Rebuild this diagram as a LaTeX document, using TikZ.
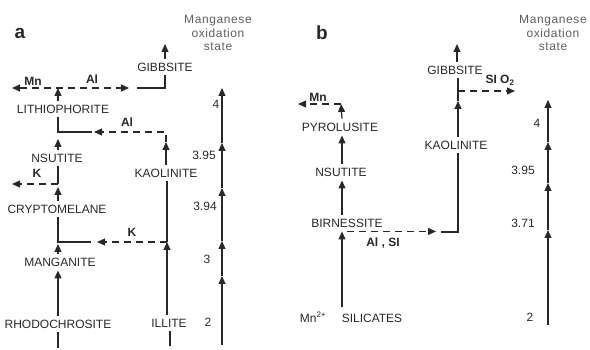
\documentclass[tikz,border=0pt]{standalone}
\usepackage{fontspec}
\setmainfont{Liberation Sans}
\usetikzlibrary{arrows.meta}
\definecolor{ink}{RGB}{40,40,40}
\newcommand{\lab}{\fontsize{12}{13.5}\selectfont}

\begin{document}
\begin{tikzpicture}[x=1pt,y=-1pt,
  mineral/.style={font=\lab,text=ink,text height=8.5pt,text depth=0pt,inner sep=4pt},
  elem/.style={font=\lab\bfseries,text=ink,inner sep=1pt},
  val/.style={font=\lab,text=ink,inner sep=1pt},
  ttl/.style={font=\lab\addfontfeature{LetterSpace=5},text=ink!75,align=center,inner sep=0pt},
  panel/.style={font=\fontsize{19}{20}\selectfont\bfseries,text=ink,inner sep=0pt},
  ln/.style={draw=ink,line width=1.2pt},
  tip/.style={-{Triangle[length=8pt,width=7pt]}},
  arr/.style={ln,tip},
  dsh/.style={dash pattern=on 7pt off 5pt}]
  \useasboundingbox (0,0) rectangle (590,350);

  % ---------- panel a ----------
  \node[panel] (pa) at (20,33) {a};
  \node[ttl] (ttla) at (218,33) {Manganese\\oxidation\\state};
  % minerals
  \node[mineral] (gibA)   at (165,67)  {GIBBSITE};
  \node[mineral] (lith)   at (63,109)  {LITHIOPHORITE};
  \node[mineral] (nsutA)  at (57,158)  {NSUTITE};
  \node[mineral] (crypt)  at (57,209)  {CRYPTOMELANE};
  \node[mineral] (mang)   at (60,262)  {MANGANITE};
  \node[mineral] (rhodo)  at (58,324)  {RHODOCHROSITE};
  \node[mineral] (kaolA)  at (166,173) {KAOLINITE};
  \node[mineral] (illite) at (169,323) {ILLITE};
  % exchanged elements
  \node[elem] (mnA)  at (33,81)  {Mn};
  \node[elem] (alA1) at (92,79)  {Al};
  \node[elem] (alA2) at (127,122) {Al};
  \node[elem] (kA1)  at (37,173) {K};
  \node[elem] (kA2)  at (132,232) {K};
  % path points
  \coordinate (gibAup) at (165,44);
  \coordinate (lithtop) at (58,88);
  \coordinate (mnAend) at (12,88);
  \coordinate (alAend) at (129,88);
  \coordinate (alAjoin) at (137,88);
  \coordinate (alA2end) at (94,132);
  \coordinate (alA2join) at (92,132);
  \coordinate (kaolAtip) at (166,142);
  \coordinate (nsutAtip) at (58,139);
  \coordinate (kAjoin) at (58,184);
  \coordinate (kAend) at (12,184);
  \coordinate (cryptTip) at (58,187);
  \coordinate (kA2join) at (91,242);
  \coordinate (kA2end) at (97,242);
  \coordinate (illK) at (167,242);
  \coordinate (mangTip) at (58,244);
  \coordinate (rhodoEnd) at (58,348);
  \coordinate (illEnd) at (170,346);
  % connectors
  \draw[arr] (gibA.north) -- (gibAup);
  \draw[ln] (alAjoin) -| (gibA.south);
  \draw[ln,dsh,{Triangle[length=8pt,width=7pt]}-{Triangle[length=8pt,width=7pt]}] (mnAend) -- (alAend);
  \draw[arr] (lith.north -| lithtop) -- (lithtop);
  \draw[ln] (lith.south -| lithtop) |- (alA2join);
  \draw[arr] (kaolA.north -| kaolAtip) -- (kaolAtip);
  \draw[arr,dsh] (kaolAtip) |- (alA2end);
  \draw[arr] (nsutA.north -| lithtop) -- (nsutAtip);
  \draw[ln] (nsutA.south -| lithtop) -- (kAjoin);
  \draw[arr,dsh] (kAjoin) -- (kAend);
  \draw[arr] (crypt.north -| lithtop) -- (cryptTip);
  \draw[ln] (crypt.south -| lithtop) |- (kA2join);
  \draw[arr] (illite.north -| illK) -- (illK);
  \draw[ln] (illK) -- (kaolA.south -| illK);
  \draw[arr,dsh] (illK) -- (kA2end);
  \draw[arr] (mang.north -| lithtop) -- (mangTip);
  \draw[arr] (rhodo.north -| lithtop) -- (mang.south -| lithtop);
  \draw[ln] (rhodo.south -| lithtop) -- (rhodoEnd);
  \draw[ln] (illite.south -| illEnd) -- (illEnd);
  % oxidation scale
  \node[val] (a4)   at (216,104) {4};
  \node[val] (a395) at (204,155) {3.95};
  \node[val] (a394) at (205,206) {3.94};
  \node[val] (a3)   at (207,259) {3};
  \node[val] (a2)   at (208,322) {2};
  \coordinate (sa0) at (222,345);
  \coordinate (sa1) at (222,276);
  \coordinate (sa2) at (222,241);
  \coordinate (sa3) at (222,188);
  \coordinate (sa4) at (222,143);
  \coordinate (sa5) at (222,88);
  \draw[arr] (sa0) -- (sa1);
  \draw[arr] (sa1) -- (sa2);
  \draw[arr] (sa2) -- (sa3);
  \draw[arr] (sa3) -- (sa4);
  \draw[arr] (sa4) -- (sa5);

  % ---------- panel b ----------
  \node[panel] (pb) at (322,33) {b};
  \node[ttl] (ttlb) at (553,33) {Manganese\\oxidation\\state};
  % minerals
  \node[mineral] (gibB)  at (455,70)  {GIBBSITE};
  \node[mineral] (kaolB) at (456,145) {KAOLINITE};
  \node[mineral] (pyro)  at (340,127) {PYROLUSITE};
  \node[mineral] (nsutB) at (341,172) {NSUTITE};
  \node[mineral] (birn)  at (347,223) {BIRNESSITE};
  \node[mineral] (mn2)   at (313,318) {Mn\textsuperscript{2+}};
  \node[mineral] (sil)   at (372,318) {SILICATES};
  % exchanged elements
  \node[elem] (mnB)  at (318,97)  {Mn};
  \node[elem] (sio)  at (500,80)  {SI O\textsubscript{2}};
  \node[elem] (alsi) at (383,243) {Al , SI};
  % path points
  \coordinate (gibBup) at (457,44);
  \coordinate (kbTip) at (458,101);
  \coordinate (sioJoin) at (458,91);
  \coordinate (sioEnd) at (515,91);
  \coordinate (alsiJoin) at (441,232);
  \coordinate (alsiEnd) at (436,232);
  \coordinate (src) at (342,307);
  \coordinate (pyTip) at (341,104);
  \coordinate (mnBend) at (298,104);
  % connectors
  \draw[arr] (gibB.north -| gibBup) -- (gibBup);
  \draw[arr] (kaolB.north -| kbTip) -- (kbTip);
  \draw[ln] (kbTip) -- (gibB.south -| kbTip);
  \draw[arr,dsh] (sioJoin) -- (sioEnd);
  \draw[ln] (kaolB.south -| kbTip) |- (alsiJoin);
  \draw[arr,dsh] (birn.south) -- (birn.south -| alsiEnd);
  \draw[arr] (src) -- (birn.south -| src);
  \draw[arr] (birn.north -| src) -- (nsutB.south -| src);
  \draw[arr] (nsutB.north -| src) -- (pyro.south -| src);
  \draw[arr] (pyro.north -| src) -- (pyTip);
  \draw[arr,dsh] (pyTip) -- (mnBend);
  % oxidation scale
  \node[val] (b4)   at (537,123) {4};
  \node[val] (b395) at (523,170) {3.95};
  \node[val] (b371) at (523,223) {3.71};
  \node[val] (b2)   at (530,317) {2};
  \coordinate (sb0) at (548,325);
  \coordinate (sb1) at (548,230);
  \coordinate (sb2) at (548,183);
  \coordinate (sb3) at (548,142);
  \coordinate (sb4) at (548,100);
  \draw[arr] (sb0) -- (sb1);
  \draw[arr] (sb1) -- (sb2);
  \draw[arr] (sb2) -- (sb3);
  \draw[arr] (sb3) -- (sb4);
\end{tikzpicture}
\end{document}
